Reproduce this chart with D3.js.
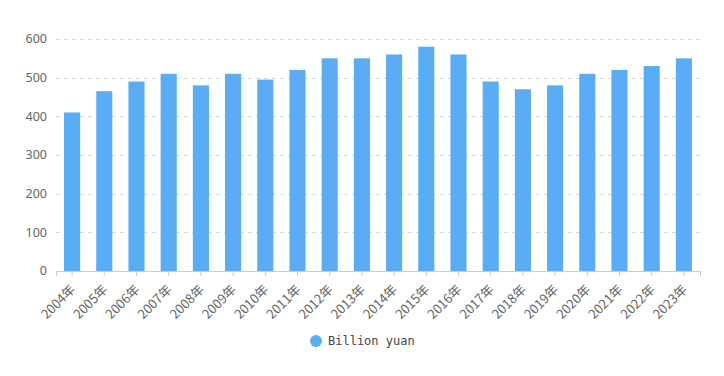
<!DOCTYPE html>
<html>
<head>
<meta charset="utf-8">
<title>Billion yuan</title>
<script src="https://d3js.org/d3.v7.min.js"></script>
<style>
html, body { margin: 0; padding: 0; background: #fff; }
svg { display: block; }
</style>
</head>
<body>
<div id="chart"></div>
<script>
var years = ["2004年","2005年","2006年","2007年","2008年","2009年","2010年","2011年","2012年","2013年",
             "2014年","2015年","2016年","2017年","2018年","2019年","2020年","2021年","2022年","2023年"];
var values = [410, 465, 490, 510, 480, 510, 495, 520, 550, 550,
              560, 580, 560, 490, 470, 480, 510, 520, 530, 550];
var yTicks = [0, 100, 200, 300, 400, 500, 600];
var seriesName = "Billion yuan";

var width = 724, height = 376;
var margin = {top: 39, right: 24, bottom: 105, left: 56};
var barColor = "#5aacf4";

var svg = d3.select("#chart").append("svg")
    .attr("width", width)
    .attr("height", height);

var x = d3.scaleBand()
    .domain(years)
    .range([margin.left, width - margin.right])
    .paddingInner(0.5)
    .paddingOuter(0.25);

var y = d3.scaleLinear()
    .domain([0, 600])
    .range([height - margin.bottom, margin.top]);

// grid lines
svg.append("g")
  .selectAll("line")
  .data(yTicks.filter(d => d > 0))
  .join("line")
    .attr("x1", margin.left)
    .attr("x2", width - margin.right)
    .attr("y1", d => Math.round(y(d)) + 0.5)
    .attr("y2", d => Math.round(y(d)) + 0.5)
    .attr("stroke", "#d9d9d9")
    .attr("stroke-dasharray", "4,4");

// y labels
svg.append("g")
    .attr("font-family", "'Noto Sans', sans-serif")
    .attr("font-size", 12.5)
    .attr("fill", "#666")
  .selectAll("text")
  .data(yTicks)
  .join("text")
    .attr("x", margin.left - 9)
    .attr("y", d => y(d))
    .attr("dy", "0.35em")
    .attr("text-anchor", "end")
    .text(d => d);

// bars
svg.append("g")
  .selectAll("rect")
  .data(values)
  .join("rect")
    .attr("x", (d, i) => x(years[i]))
    .attr("y", d => y(d))
    .attr("width", x.bandwidth())
    .attr("height", d => y(0) - y(d))
    .attr("fill", barColor);

// x axis
var xAxis = svg.append("g")
    .attr("transform", `translate(0,${y(0)})`)
    .call(d3.axisBottom(x).tickSizeOuter(0).tickSize(5));
xAxis.select(".domain").attr("stroke", "#ccc");
xAxis.selectAll(".tick line").attr("stroke", "#ccc");
xAxis.selectAll(".tick text")
    .attr("font-family", "'Noto Sans CJK SC', sans-serif")
    .attr("font-size", 13)
    .attr("fill", "#666")
    .attr("text-anchor", "end")
    .attr("x", 0)
    .attr("y", 0)
    .attr("dy", "0.35em")
    .attr("transform", "translate(1,16) rotate(-45)");

// legend
var legend = svg.append("g")
    .attr("transform", "translate(316,341)");
legend.append("circle")
    .attr("r", 6)
    .attr("fill", barColor);
legend.append("text")
    .attr("x", 12)
    .attr("dy", "0.35em")
    .attr("font-family", "'DejaVu Sans Mono', monospace")
    .attr("font-size", 12)
    .attr("fill", "#444")
    .text(seriesName);
</script>
</body>
</html>
